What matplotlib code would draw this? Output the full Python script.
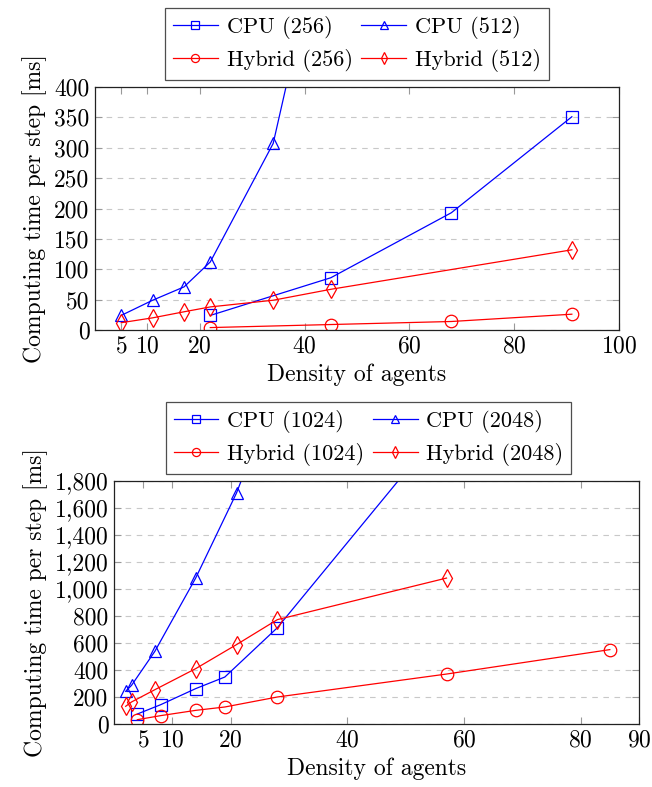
import matplotlib
matplotlib.use("Agg")
import matplotlib.pyplot as plt
from matplotlib.ticker import FuncFormatter

plt.rcParams["font.family"] = "serif"
plt.rcParams["font.serif"] = ["cmr10", "DejaVu Serif"]
plt.rcParams["mathtext.fontset"] = "cm"
plt.rcParams["axes.formatter.use_mathtext"] = True
plt.rcParams["font.size"] = 17

# top chart: 256 / 512
x_cpu256 = [22, 45, 68, 91]
y_cpu256 = [24, 86, 193, 351]
x_hyb256 = [22, 45, 68, 91]
y_hyb256 = [4, 9, 14, 26]
x_cpu512 = [5, 11, 17, 22, 34, 45]
y_cpu512 = [24, 49, 71, 112, 307, 725]
x_hyb512 = [5, 11, 17, 22, 34, 45, 91]
y_hyb512 = [12, 20, 30, 38, 49, 67, 132]

# bottom chart: 1024 / 2048
x_cpu1024 = [4, 8, 14, 19, 28, 57]
y_cpu1024 = [74, 143, 262, 348, 713, 2236]
x_hyb1024 = [4, 8, 14, 19, 28, 57, 85]
y_hyb1024 = [32, 62, 101, 126, 200, 370, 551]
x_cpu2048 = [2, 3, 7, 14, 21, 28]
y_cpu2048 = [242, 286, 538, 1081, 1711, 2500]
x_hyb2048 = [2, 3, 7, 14, 21, 28, 57]
y_hyb2048 = [131, 163, 254, 410, 588, 773, 1081]

top_xticks = [5, 10, 20, 40, 60, 80, 100]
top_yticks = [0, 50, 100, 150, 200, 250, 300, 350, 400]
bot_xticks = [5, 10, 20, 40, 60, 80, 90]
bot_yticks = [0, 200, 400, 600, 800, 1000, 1200, 1400, 1600, 1800]

fig = plt.figure(figsize=(6.52, 7.87), dpi=100)
W, H = 652, 787
ax1 = fig.add_axes([95 / W, 1 - 330 / H, (619 - 95) / W, (330 - 87) / H])
ax2 = fig.add_axes([114 / W, 1 - 724 / H, (639 - 114) / W, (724 - 481) / H])

mk = dict(markersize=9, markerfacecolor="none", linewidth=0.9, markeredgewidth=0.9)


def style(ax, xlim, ylim, xticks, yticks):
    ax.set_xlim(*xlim)
    ax.set_ylim(*ylim)
    ax.set_xticks(xticks)
    ax.set_yticks(yticks)
    ax.yaxis.set_major_formatter(FuncFormatter(lambda v, p: f"{v:,.0f}"))
    ax.tick_params(direction="in", length=5, width=0.8, color="#999999",
                   top=True, right=True, labelsize=17, pad=4)
    ax.grid(axis="y", linestyle=(0, (5, 5)), color="#c8c8c8", linewidth=0.8)
    ax.set_axisbelow(True)
    for s in ax.spines.values():
        s.set_linewidth(0.9)
        s.set_color("#222222")
    ax.set_xlabel("Density of agents", fontsize=17, labelpad=4)
    ax.set_ylabel("Computing time per step [ms]", fontsize=17, labelpad=5)


ax1.plot(x_cpu256, y_cpu256, color="blue", marker="s", label="CPU (256)", **mk)
ax1.plot(x_cpu512, y_cpu512, color="blue", marker="^", label="CPU (512)", **mk)
ax1.plot(x_hyb256, y_hyb256, color="red", marker="o", label="Hybrid (256)", **mk)
ax1.plot(x_hyb512, y_hyb512, color="red", marker="d", label="Hybrid (512)", **mk)
style(ax1, (0, 100), (0, 400), top_xticks, top_yticks)

ax2.plot(x_cpu1024, y_cpu1024, color="blue", marker="s", label="CPU (1024)", **mk)
ax2.plot(x_cpu2048, y_cpu2048, color="blue", marker="^", label="CPU (2048)", **mk)
ax2.plot(x_hyb1024, y_hyb1024, color="red", marker="o", label="Hybrid (1024)", **mk)
ax2.plot(x_hyb2048, y_hyb2048, color="red", marker="d", label="Hybrid (2048)", **mk)
style(ax2, (0, 90), (0, 1800), bot_xticks, bot_yticks)

for ax, cx in ((ax1, 0.5), (ax2, 0.485)):
    handles, labels = ax.get_legend_handles_labels()
    order = [0, 2, 1, 3]
    leg = ax.legend([handles[i] for i in order], [labels[i] for i in order],
                    ncol=2, loc="lower center", bbox_to_anchor=(cx, 1.029),
                    fontsize=16, frameon=True, fancybox=False, edgecolor="#222222",
                    handlelength=2.0, columnspacing=0.4, handletextpad=0.4,
                    borderpad=0.35, labelspacing=0.45, borderaxespad=0,
                    markerscale=0.65)
    leg.get_frame().set_linewidth(0.9)

fig.savefig("out.png", dpi=100)
